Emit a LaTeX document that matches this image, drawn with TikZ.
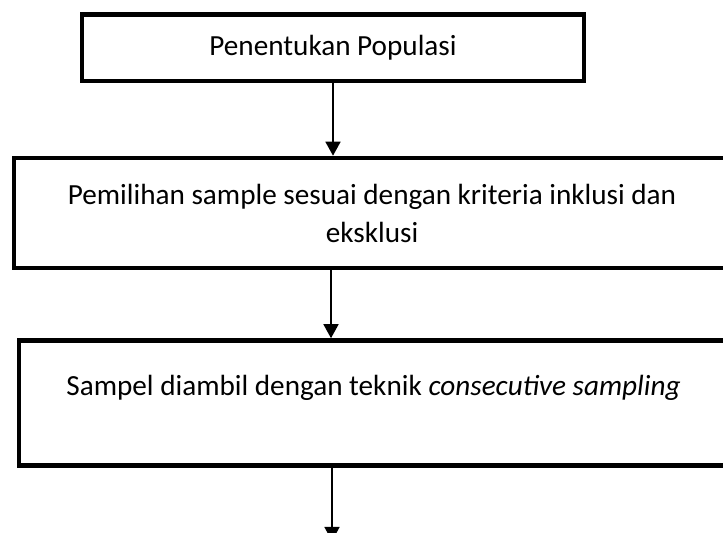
\documentclass[tikz,border=0pt]{standalone}
\usepackage{fontspec}
\setmainfont{Carlito}
\usetikzlibrary{arrows.meta}

\begin{document}
\begin{tikzpicture}[x=0.5pt, y=-0.5pt, >={Triangle[width=7.5pt,length=7pt]},
    box/.style={draw=black, line width=2.3pt, inner sep=0pt, align=center,
      font=\fontsize{14.6}{19}\selectfont},
    boxtext/.style={font=\fontsize{14.6}{19}\selectfont, inner sep=0pt},
    flow/.style={->, line width=0.8pt}]

    \clip (0,0) rectangle (723,533);

    \node[box, minimum width=251pt, minimum height=33.25pt] (populasi) at (333,47.75) {Penentukan Populasi};
    \node[box, minimum width=358pt, minimum height=55pt]    (pemilihan) at (372,213)  {Pemilihan sample sesuai dengan kriteria inklusi dan\\eksklusi};
    \node[box, minimum width=354.5pt, minimum height=62.5pt,
          label={[boxtext, yshift=7.5pt]center:Sampel diambil dengan teknik \textit{consecutive sampling}}] (sampel) at (373.5,403) {};
    \coordinate (akhir) at (332,541);

    % connectors
    \draw[flow] (populasi.south) -- (populasi.south |- pemilihan.north);
    \draw[flow] ([xshift=-1pt]pemilihan.south -| populasi.south) -- ([xshift=-1pt]populasi.south |- sampel.north);
    \draw[flow] (sampel.south -| akhir) -- (akhir);
\end{tikzpicture}
\end{document}
